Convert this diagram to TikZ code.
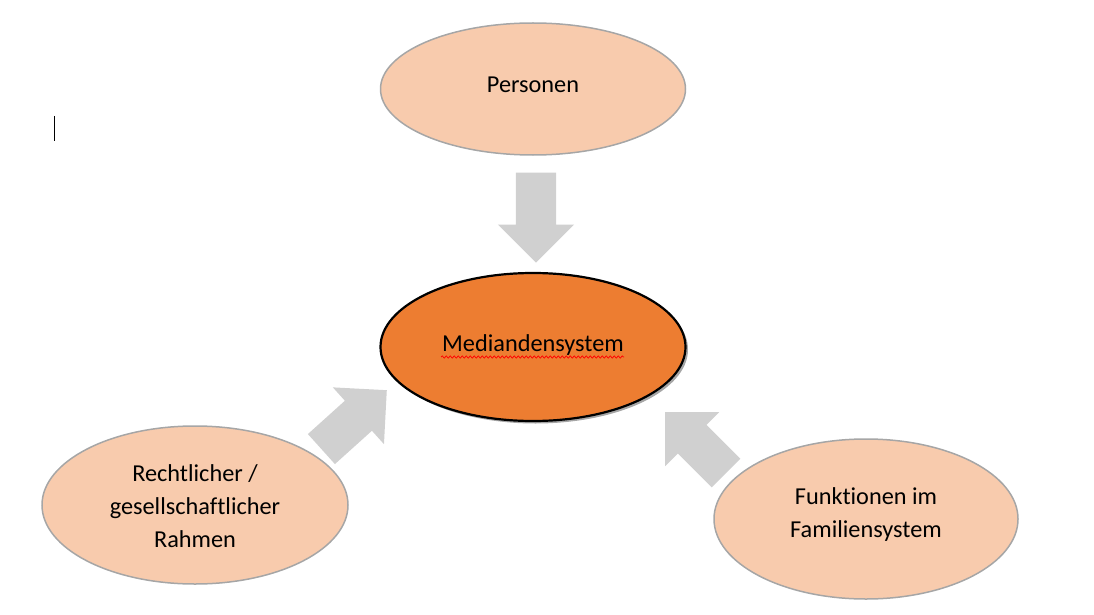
\documentclass[tikz,border=0pt]{standalone}
\usepackage{fontspec}
\setmainfont{Carlito}[Ligatures={NoCommon}]
\usetikzlibrary{shapes.geometric,shapes.arrows,shadows,decorations.pathmorphing}
\definecolor{peach}{HTML}{F8CBAD}
\definecolor{orangeC}{HTML}{ED7D31}
\definecolor{arrowgray}{HTML}{D0D0D0}
\definecolor{rimgray}{HTML}{A6A6A6}
\tikzset{
  outer/.style={ellipse, fill=peach, draw=rimgray, line width=1.5pt, inner sep=0pt},
  core/.style={ellipse, fill=orangeC, draw=black, line width=2.2pt, inner sep=0pt,
     drop shadow={shadow xshift=2.5pt, shadow yshift=-2.5pt, opacity=0.35, fill=black}},
  txt/.style={font=\fontsize{24.3}{33}\selectfont, align=center, inner sep=0pt, text=black},
  bigarrow/.style={single arrow, fill=arrowgray, draw=none, inner xsep=0pt, inner ysep=20pt,
     single arrow head extend=18pt, single arrow tip angle=90, anchor=tip},
}
\begin{document}
\begin{tikzpicture}[x=1pt,y=-1pt]
\useasboundingbox (0,0) rectangle (1094,615);
% ellipses
\node[outer, minimum width=305pt, minimum height=132pt] (pers) at (533,89) {};
\node[core, minimum width=305pt, minimum height=148pt] (med) at (533,347) {};
\node[outer, minimum width=306pt, minimum height=158pt] (recht) at (195,505) {};
\node[outer, minimum width=304pt, minimum height=160pt] (funk) at (866,519) {};
% texts
\node[txt] (tpers) at (533,85) {Personen};
\node[txt] (tmed) at (533,345) {Mediandensystem};
\node[txt] (trecht) at (195,506) {Rechtlicher /\\gesellschaftlicher\\Rahmen};
\node[txt] (tfunk) at (866,515) {Funktionen im\\Familiensystem};
% spell-check underline
\coordinate (u1) at (441,357);
\coordinate (u2) at (624,357);
\draw[red, line width=0.7pt, decorate, decoration={snake, amplitude=1.1pt, segment length=4pt}] (u1) -- (u2);
% arrows
\node[bigarrow, minimum height=90pt, rotate=-90] (adown) at (536,263) {};
\node[bigarrow, minimum height=88pt, rotate=42] (aleft) at (387,390) {};
\node[bigarrow, minimum height=86pt, rotate=135] (aright) at (665,412) {};
% text cursor
\coordinate (c1) at (54,116);
\coordinate (c2) at (54,141);
\draw[black, line width=1pt] (c1) -- (c2);
\end{tikzpicture}
\end{document}
